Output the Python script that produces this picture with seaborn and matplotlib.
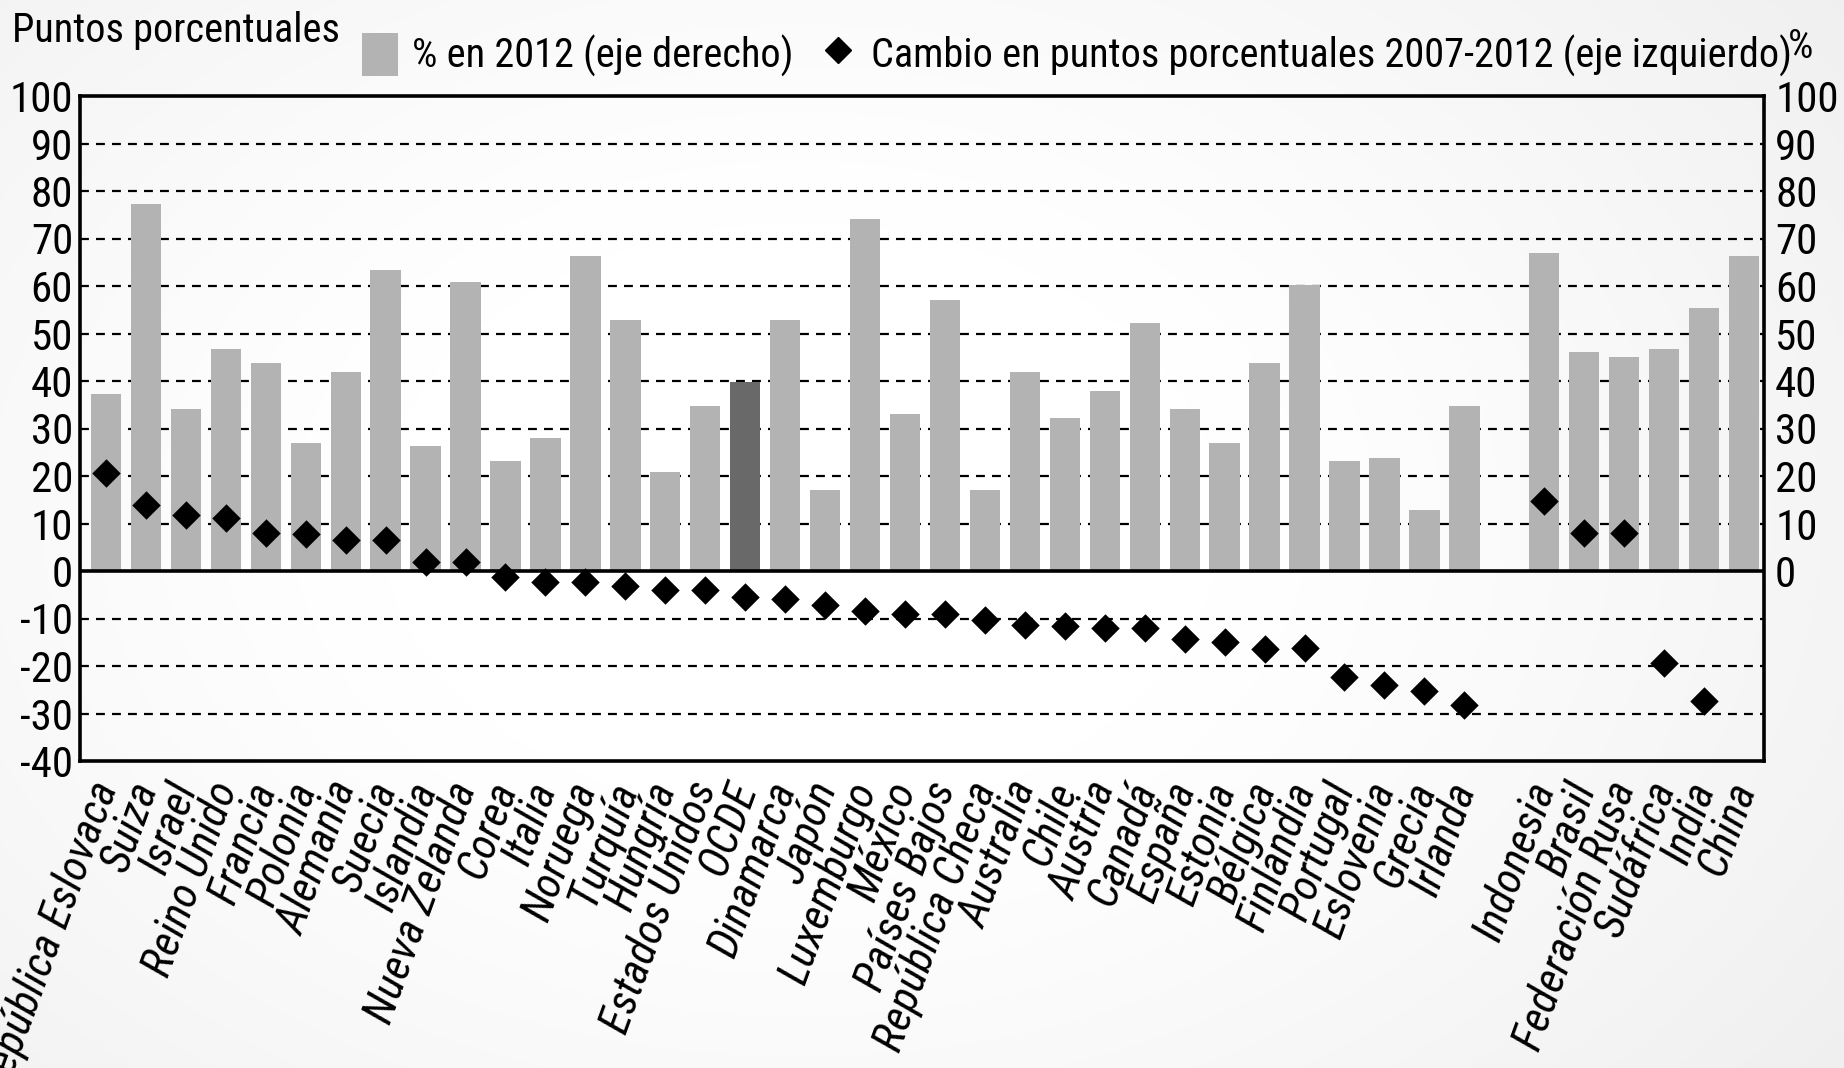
import numpy as np
import pandas as pd
import matplotlib
matplotlib.use("Agg")
import matplotlib.pyplot as plt
from matplotlib.lines import Line2D
from matplotlib.patches import Patch
from matplotlib import font_manager
import seaborn as sns

countries_oecd = ["República Eslovaca", "Suiza", "Israel", "Reino Unido", "Francia", "Polonia",
                  "Alemania", "Suecia", "Islandia", "Nueva Zelanda", "Corea", "Italia", "Noruega",
                  "Turquía", "Hungría", "Estados Unidos", "OCDE", "Dinamarca", "Japón", "Luxemburgo",
                  "México", "Países Bajos", "República Checa", "Australia", "Chile", "Austria",
                  "Canadá", "España", "Estonia", "Bélgica", "Finlandia", "Portugal", "Eslovenia",
                  "Grecia", "Irlanda"]
countries_other = ["Indonesia", "Brasil", "Federación Rusa", "Sudáfrica", "India", "China"]

share_2012_oecd = [37.2, 77.3, 34.2, 46.8, 43.7, 26.9, 41.9, 63.3, 26.3, 60.9, 23.2, 27.9, 66.3,
                   52.9, 20.8, 34.7, 39.8, 52.9, 17.0, 74.2, 33.0, 57.1, 17.0, 41.9, 32.3, 37.8,
                   52.2, 34.2, 26.9, 43.7, 60.2, 23.2, 23.7, 12.8, 34.7]
share_2012_other = [67.0, 46.2, 45.1, 46.8, 55.3, 66.3]

change_oecd = [20.6, 13.9, 11.7, 11.1, 7.9, 7.8, 6.6, 6.6, 1.9, 2.0, -1.2, -2.4, -2.4, -3.1,
               -4.1, -4.1, -5.4, -5.9, -7.1, -8.5, -9.1, -9.1, -10.3, -11.3, -11.5, -12.1,
               -12.0, -14.4, -15.0, -16.4, -16.2, -22.3, -24.1, -25.3, -28.3]
change_other = [14.7, 7.9, 7.9, -19.4, -27.3, np.nan]

left_ticks = list(range(-40, 101, 10))
right_ticks = list(range(0, 101, 10))

countries = countries_oecd + countries_other
order = countries_oecd + [" "] + countries_other
df = pd.DataFrame({
    "country": countries,
    "share": share_2012_oecd + share_2012_other,
    "change": change_oecd + change_other,
})
palette = {c: ("#696969" if c == "OCDE" else "#b3b3b3") for c in countries}

available = {f.name for f in font_manager.fontManager.ttflist}
fam = [f for f in ["Roboto Condensed", "Open Sans Condensed", "Lato", "DejaVu Sans"] if f in available]

W, H = 1844, 1068
fig = plt.figure(figsize=(W / 100, H / 100), dpi=100)
fig.patch.set_facecolor("white")

# subtle background vignette
yy, xx = np.mgrid[0:H, 0:W]
r = np.sqrt(((xx - 800) / 1200.0) ** 2 + ((yy - 520) / 850.0) ** 2)
shade = 1.0 - 0.09 * np.clip(r - 0.35, 0, None) ** 1.2
img = np.dstack([shade, shade, shade])
fig.figimage(img, xo=0, yo=0, origin="upper", zorder=-10)

plt.rcParams["font.family"] = fam

ax = fig.add_axes([80 / W, 1 - 761 / H, (1764 - 80) / W, (761 - 96) / H])
ax.set_facecolor("none")

sns.barplot(data=df, x="country", y="share", hue="country", palette=palette, order=order,
            hue_order=countries, legend=False, width=0.76, saturation=1, ax=ax, zorder=2,
            edgecolor="none")
sns.stripplot(data=df.dropna(), x="country", y="change", order=order, jitter=False,
              color="black", marker="D", size=14.5, ax=ax, zorder=4, linewidth=0)

ax.set_xlim(-0.65, len(order) - 0.5)
ax.set_ylim(-40, 100)
ax.set_yticks(left_ticks)
ax.set_yticklabels([str(t) for t in left_ticks], fontsize=31, family=fam)
for g in left_ticks:
    if g in (-40, 0, 100):
        continue
    ax.axhline(g, color="black", linestyle=(0, (4, 3.2)), linewidth=1.6, zorder=1)
ax.axhline(0, color="black", linewidth=2.6, zorder=3)
ax.set_xlabel("")
ax.set_ylabel("")
ax.tick_params(axis="both", length=0, pad=5)
ax.set_xticks(range(len(order)))
ax.set_xticklabels(order, rotation=70, ha="right", va="center", rotation_mode="anchor",
                   fontsize=32, style="italic", family=fam)
ax.tick_params(axis="x", pad=16)
for s in ax.spines.values():
    s.set_linewidth(2.6)
    s.set_color("black")

ax2 = ax.twinx()
ax2.set_ylim(-40, 100)
ax2.set_yticks(right_ticks)
ax2.set_yticklabels([str(t) for t in right_ticks], fontsize=31, family=fam)
ax2.tick_params(axis="y", length=0, pad=8)
for s in ax2.spines.values():
    s.set_visible(False)

fig.text(12 / W, 1 - 30 / H, "Puntos porcentuales", fontsize=29, va="center", ha="left", family=fam)
fig.text(1788 / W, 1 - 46 / H, "%", fontsize=29, va="center", ha="left", family=fam)

handles = [Patch(facecolor="#b3b3b3", edgecolor="none", label="% en 2012 (eje derecho)"),
           Line2D([0], [0], marker="D", color="black", linestyle="none", markersize=13,
                  label="Cambio en puntos porcentuales 2007-2012 (eje izquierdo)")]
fig.legend(handles=handles, loc="center left", bbox_to_anchor=(342 / W, 1 - 55 / H), ncol=2,
           frameon=False, handlelength=0.9, handleheight=1.3, handletextpad=0.35,
           columnspacing=0.65, borderpad=0, prop={"family": fam, "size": 29})

fig.savefig("out.png", dpi=100)
